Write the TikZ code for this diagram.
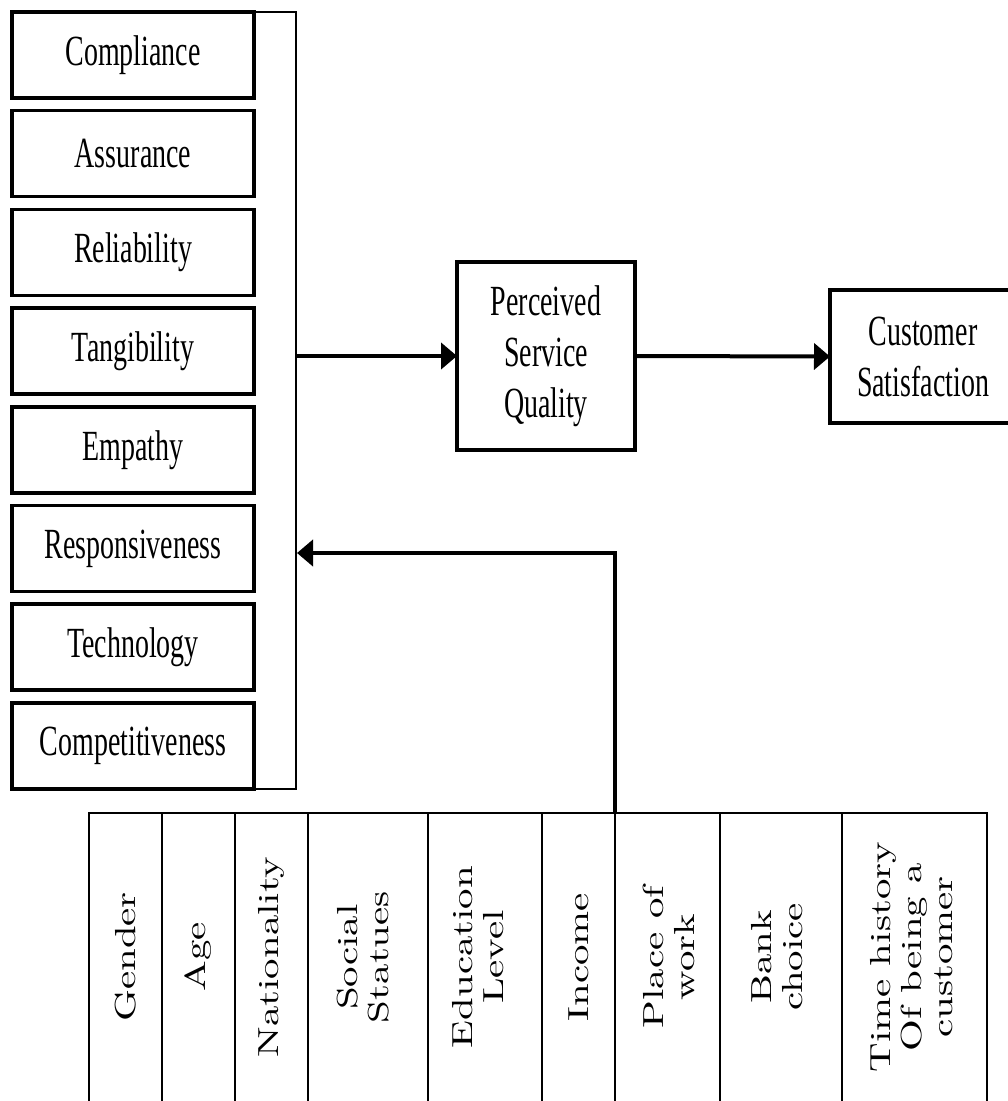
\documentclass[tikz,border=0pt]{standalone}
\usepackage{fontspec}
\newfontfamily\topfont[FakeStretch=0.65]{Liberation Serif}
\newfontfamily\botfont[FakeStretch=1.41,Extension=.otf]{lmroman10-regular}
\usetikzlibrary{arrows.meta}
\begin{document}
\begin{tikzpicture}[x=1pt,y=-1pt,
  fbox/.style={draw,line width=3.5pt,minimum width=242pt,minimum height=86pt,inner sep=0pt,outer sep=0pt,align=center,font=\topfont\fontsize{43}{51}\selectfont},
  mainbox/.style={draw,line width=3.5pt,inner sep=0pt,outer sep=0pt,align=center,font=\topfont\fontsize{43}{51}\selectfont},
  brk/.style={line width=2.5pt},
  arr/.style={line width=4pt,-{Triangle[length=16pt,width=26pt]}},
  tab/.style={line width=2.5pt,line cap=rect},
  bot/.style={rotate=90,inner sep=0pt,align=center,font=\botfont\fontsize{29}{31}\selectfont}
]
\useasboundingbox (0,0) rectangle (1008,1101);
\clip (0,0) rectangle (1008,1101);
% left factor boxes
\foreach \t [count=\i from 0] in {Compliance,Assurance,Reliability,Tangibility,Empathy,Responsiveness,Technology,Competitiveness}
  \node[fbox] (c\i) at (133,{55+98.7*\i}) {\t};
% bracket
\draw[brk] (c0.north east) -- ++(42,0) |- (c7.south east);
% main boxes
\node[mainbox,minimum width=178pt,minimum height=188pt] (psq) at (546,356) {Perceived\\Service\\Quality};
\node[mainbox,minimum width=186pt,minimum height=133pt] (cs) at (923,356.5) {Customer\\Satisfaction};
% arrows
\coordinate (bm) at (296,356);
\draw[arr] (bm) -- (psq.west);
\draw[arr] (psq.east) -- (cs.west);
\coordinate (fb) at (615,813);
\coordinate (fbend) at (297,553);
\draw[arr] (fb) |- (fbend);
% demographic table
\draw[tab] (89,813) -- (987,813);
\foreach \x in {89,162,235,308,428,542,615,720,842,987}
  \draw[tab] (\x,813) -- (\x,1120);
\node[bot] (d1) at (125.5,957) {Gender};
\node[bot] (d2) at (198.5,957) {Age};
\node[bot] (d3) at (271.5,957) {Nationality};
\node[bot] (d4) at (363,957) {Social\\Statues};
\node[bot] (d5) at (478,957) {Education\\Level};
\node[bot] (d6) at (578.5,957) {Income};
\node[bot] (d7) at (669,957) {Place of\\work};
\node[bot] (d8) at (777,957) {Bank\\choice};
\node[bot] (d9) at (912,957) {Time\hspace{0.45em}history\\Of being a\\customer};
\end{tikzpicture}
\end{document}
